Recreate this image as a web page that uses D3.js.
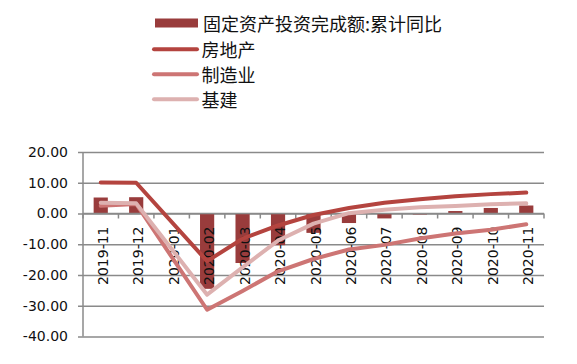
<!DOCTYPE html>
<html>
<head>
<meta charset="utf-8">
<script src="https://cdn.jsdelivr.net/npm/d3@7"></script>
<style>
  html, body { margin: 0; padding: 0; background: #fff; }
  svg { display: block; }
</style>
</head>
<body>
<script>
// ---- data ----
const categories = ["2019-11","2019-12","2020-01","2020-02","2020-03","2020-04","2020-05","2020-06","2020-07","2020-08","2020-09","2020-10","2020-11"];
const faiValues = [5.2, 5.3, null, -24.5, -16.1, -10.3, -6.3, -3.1, -1.6, -0.3, 0.8, 1.8, 2.6];
const realEstateValues = [10.1, 10.0, null, -15.5, -8.2, -3.9, -0.5, 1.8, 3.5, 4.6, 5.6, 6.3, 6.8];
const manufacturingValues = [2.5, 3.1, null, -31.3, -25.2, -18.8, -14.8, -11.7, -10.2, -8.1, -6.5, -5.3, -3.5];
const infraValues = [3.5, 3.3, null, -26.4, -17.5, -8.8, -3.3, 0.1, 1.2, 2.0, 2.4, 3.0, 3.3];
const yTicks = [20, 10, 0, -10, -20, -30, -40];
const seriesNames = ["固定资产投资完成额:累计同比", "房地产", "制造业", "基建"];

const W = 577, H = 364;
const plot = { left: 83, right: 544, top: 152, bottom: 336.5 };
const colors = { bar: "#993c3c", re: "#b4443f", mfg: "#cd7574", infra: "#ddb1b0", grid: "#8a8a8a" };
const numFont = "'DejaVu Sans', Verdana, sans-serif";
const cjkFont = "'Noto Sans CJK SC', 'Noto Sans', sans-serif";

const svg = d3.select("body").append("svg").attr("width", W).attr("height", H);

const x = d3.scaleBand().domain(categories).range([plot.left, plot.right]).padding(0);
const y = d3.scaleLinear().domain([-40, 20]).range([plot.bottom, plot.top]);

// gridlines + y labels
const yAxis = d3.axisLeft(y)
  .tickValues(yTicks)
  .tickFormat(d => d.toFixed(2))
  .tickSizeInner(-(plot.right - plot.left))
  .tickSizeOuter(0)
  .tickPadding(15);
const gy = svg.append("g").attr("transform", `translate(${plot.left},0)`).call(yAxis);
gy.select(".domain").remove();
gy.selectAll(".tick line")
  .attr("x1", -5)
  .attr("stroke", colors.grid).attr("stroke-width", 1.5);
gy.selectAll(".tick text")
  .attr("font-family", numFont).attr("font-size", 14).attr("fill", "#111");

// left axis line
svg.append("line")
  .attr("x1", plot.left).attr("x2", plot.left)
  .attr("y1", y(20)).attr("y2", y(-40))
  .attr("stroke", colors.grid).attr("stroke-width", 1.5);

// bars
const barW = x.bandwidth() * 0.4;
svg.append("g").selectAll("rect")
  .data(categories.map((c, i) => ({ c, v: faiValues[i] })).filter(d => d.v != null))
  .join("rect")
  .attr("x", d => x(d.c) + x.bandwidth() / 2 - barW / 2)
  .attr("width", barW)
  .attr("y", d => y(Math.max(0, d.v)))
  .attr("height", d => Math.abs(y(d.v) - y(0)))
  .attr("fill", colors.bar);

// zero axis with category boundary ticks
svg.append("line")
  .attr("x1", plot.left).attr("x2", plot.right)
  .attr("y1", y(0)).attr("y2", y(0))
  .attr("stroke", colors.grid).attr("stroke-width", 1.5);
const boundaries = categories.map(c => x(c)).concat([plot.right]);
svg.append("g").selectAll("line")
  .data(boundaries)
  .join("line")
  .attr("x1", d => d).attr("x2", d => d)
  .attr("y1", y(0)).attr("y2", y(0) + 5)
  .attr("stroke", colors.grid).attr("stroke-width", 1.5);

// x labels (rotated)
svg.append("g").selectAll("text")
  .data(categories)
  .join("text")
  .attr("transform", d => `translate(${x(d) + x.bandwidth() / 2 + 7},${y(0) + 13}) rotate(-90)`)
  .attr("text-anchor", "end")
  .attr("font-family", numFont).attr("font-size", 14).attr("fill", "#111")
  .text(d => d);

// lines
const lineGen = d3.line()
  .x(d => x(d.c) + x.bandwidth() / 2)
  .y(d => y(d.v));
const lineSeries = [
  { vals: realEstateValues, color: colors.re },
  { vals: manufacturingValues, color: colors.mfg },
  { vals: infraValues, color: colors.infra }
];
lineSeries.forEach(s => {
  const pts = categories.map((c, i) => ({ c, v: s.vals[i] })).filter(d => d.v != null);
  svg.append("path")
    .datum(pts)
    .attr("d", lineGen)
    .attr("fill", "none")
    .attr("stroke", s.color)
    .attr("stroke-width", 4)
    .attr("stroke-linejoin", "round")
    .attr("stroke-linecap", "round");
});

// legend
const legend = svg.append("g");
const rowsY = [23, 49.3, 74.3, 99.3];
legend.append("rect")
  .attr("x", 155).attr("y", rowsY[0] - 4.5).attr("width", 43).attr("height", 9)
  .attr("fill", colors.bar);
[colors.re, colors.mfg, colors.infra].forEach((c, i) => {
  legend.append("line")
    .attr("x1", 154).attr("x2", 197)
    .attr("y1", rowsY[i + 1]).attr("y2", rowsY[i + 1])
    .attr("stroke", c).attr("stroke-width", 4).attr("stroke-linecap", "round");
});
legend.selectAll("text")
  .data(seriesNames)
  .join("text")
  .attr("x", (d, i) => i === 0 ? 203 : 201.5)
  .attr("y", (d, i) => rowsY[i])
  .attr("dominant-baseline", "central")
  .attr("font-family", cjkFont).attr("font-size", 18).attr("fill", "#111")
  .text(d => d);
</script>
</body>
</html>
